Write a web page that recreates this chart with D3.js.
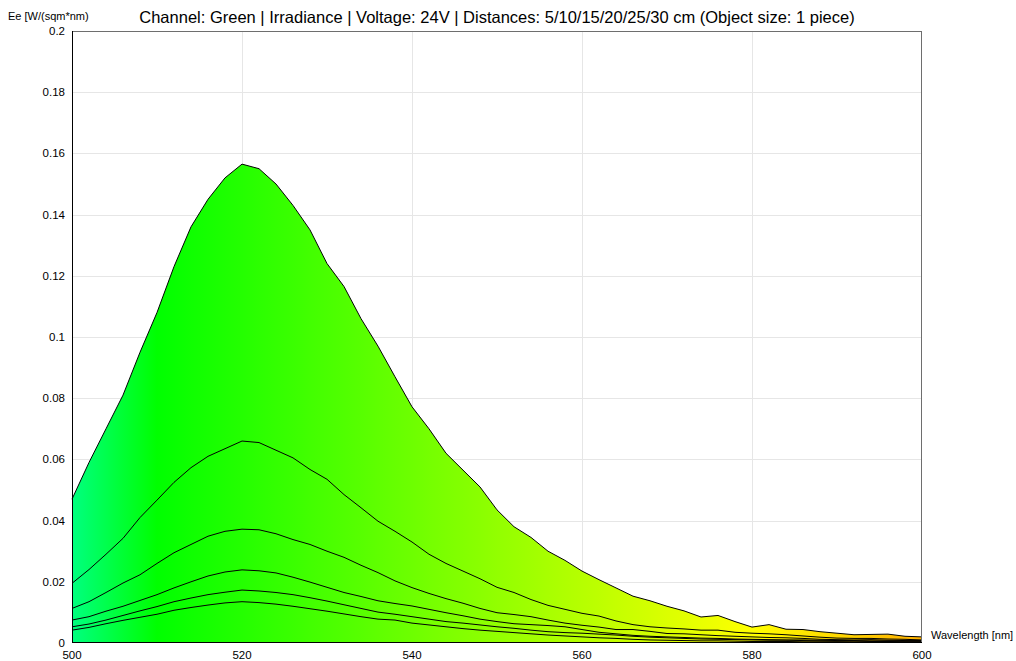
<!DOCTYPE html>
<meta charset="utf-8">
<style>
body { margin: 0; background: #fff; }
text { font-family: "Liberation Sans", Arial, sans-serif; fill: #000; }
.grid line { stroke: #e6e6e6; stroke-width: 1px; shape-rendering: crispEdges; }
.spec { stroke: #000; stroke-width: 1px; stroke-linejoin: round; }
</style>
<svg width="1016" height="661" id="chart"></svg>
<script src="https://cdn.jsdelivr.net/npm/d3@7"></script>
<script>

var title = "Channel: Green | Irradiance | Voltage: 24V | Distances: 5/10/15/20/25/30 cm (Object size: 1 piece)";

var wavelengths = d3.range(500, 601, 2);

var cm5 = [0.047,0.059,0.070,0.081,0.095,0.108,0.123,0.136,0.145,0.152,0.1565,0.155,0.150,0.143,0.135,0.124,0.1165,0.106,0.097,0.087,
  0.0772,0.070,0.062,0.0565,0.051,0.0435,0.038,0.0345,0.030,0.027,0.0235,0.0207,0.018,0.0153,0.0138,0.012,0.0105,0.0085,0.009,0.007,
  0.0052,0.006,0.0045,0.0044,0.0037,0.0032,0.0027,0.0028,0.0029,0.0022,0.002];
var cm10 = [0.0195,0.024,0.029,0.0342,0.041,0.0467,0.0525,0.0573,0.061,0.0635,0.066,0.0655,0.063,0.0605,0.0567,0.0535,0.0485,0.0442,0.0398,0.0365,
  0.033,0.029,0.026,0.0235,0.021,0.0182,0.0165,0.0142,0.0123,0.011,0.0097,0.0088,0.0072,0.006,0.0053,0.0049,0.0046,0.0042,0.0042,0.0035,
  0.0032,0.003,0.0027,0.0023,0.0019,0.0016,0.0015,0.0015,0.0013,0.0012,0.001];
var cm15 = [0.0113,0.0135,0.0165,0.0196,0.0223,0.026,0.0295,0.0322,0.0349,0.0365,0.0372,0.037,0.0357,0.0338,0.0322,0.030,0.028,0.0254,0.023,0.0203,
  0.0181,0.0162,0.0145,0.013,0.0113,0.0099,0.0093,0.0086,0.0075,0.0065,0.0058,0.0052,0.0044,0.0044,0.0038,0.0031,0.003,0.0027,0.0024,0.0022,
  0.002,0.0018,0.0017,0.0015,0.0012,0.0011,0.001,0.0011,0.0009,0.0008,0.0008];
var cm20 = [0.0075,0.0086,0.0104,0.012,0.0139,0.0158,0.018,0.020,0.0219,0.0232,0.0239,0.0236,0.0229,0.0215,0.0199,0.0182,0.0165,0.0152,0.0138,0.0129,
  0.0121,0.011,0.0099,0.0089,0.0078,0.007,0.0063,0.006,0.0057,0.0053,0.0044,0.0035,0.003,0.0025,0.0022,0.002,0.0018,0.0016,0.0015,0.0013,
  0.0012,0.0011,0.001,0.001,0.0009,0.0008,0.0008,0.0007,0.0007,0.0006,0.0006];
var cm25 = [0.0053,0.0062,0.0075,0.009,0.0105,0.0119,0.0135,0.0147,0.0158,0.0166,0.0173,0.017,0.0165,0.0158,0.0148,0.0137,0.0125,0.0113,0.0101,0.0094,
  0.0086,0.0078,0.007,0.0065,0.0059,0.0053,0.0048,0.0042,0.0037,0.0034,0.0032,0.0029,0.0026,0.0022,0.0019,0.0017,0.0015,0.0013,0.0012,0.0011,
  0.001,0.0009,0.0009,0.0008,0.0007,0.0006,0.0006,0.0005,0.0005,0.0004,0.0004];
var cm30 = [0.0042,0.0051,0.0063,0.0074,0.0084,0.0094,0.0107,0.0116,0.0124,0.0131,0.0135,0.0132,0.0127,0.012,0.0112,0.0104,0.0095,0.0086,0.0078,0.0075,
  0.0065,0.0059,0.0053,0.0047,0.0042,0.0038,0.0034,0.003,0.0026,0.0023,0.002,0.0017,0.0015,0.0012,0.001,0.0009,0.0008,0.0007,0.0007,0.0006,
  0.0005,0.0005,0.0005,0.0004,0.0004,0.0004,0.0003,0.0003,0.0003,0.0003,0.0003];

var series = [cm5, cm10, cm15, cm20, cm25, cm30];
var xTicks = [500, 520, 540, 560, 580, 600];
var yTicks = [0, 0.02, 0.04, 0.06, 0.08, 0.1, 0.12, 0.14, 0.16, 0.18, 0.2];

var svg = d3.select("svg#chart"),
    margin = {top: 31, right: 94, bottom: 18, left: 72},
    width = svg.attr("width") - margin.left - margin.right,
    height = svg.attr("height") - margin.top - margin.bottom,
    g = svg.append("g").attr("transform", "translate(" + margin.left + "," + margin.top + ")");

var x = d3.scaleLinear().domain([500, 600]).range([0, width]),
    y = d3.scaleLinear().domain([0, 0.2]).range([height, 0]);

// wavelength -> rgb (Bruton)
function specColor(w) {
  var r = 0, gg = 0, b = 0;
  if (w < 510) { gg = 1; b = -(w - 510) / 20; }
  else if (w < 580) { r = (w - 510) / 70; gg = 1; }
  else { r = 1; gg = -(w - 645) / 65; }
  return d3.rgb(r * 255, gg * 255, b * 255).toString();
}

var grad = svg.append("defs").append("linearGradient")
    .attr("id", "spec")
    .attr("gradientUnits", "userSpaceOnUse")
    .attr("x1", x(500)).attr("x2", x(600)).attr("y1", 0).attr("y2", 0);
grad.selectAll("stop")
  .data(d3.range(500, 601, 2))
  .enter().append("stop")
    .attr("offset", function(d) { return (d - 500) / 100; })
    .attr("stop-color", specColor);

// grid
g.append("g").attr("class", "grid")
  .selectAll("line").data(yTicks.slice(1, -1))
  .enter().append("line")
    .attr("x1", 0).attr("x2", width)
    .attr("y1", function(d) { return Math.round(y(d)) + 0.5; })
    .attr("y2", function(d) { return Math.round(y(d)) + 0.5; });
g.append("g").attr("class", "grid")
  .selectAll("line").data(xTicks.slice(1, -1))
  .enter().append("line")
    .attr("y1", 0).attr("y2", height)
    .attr("x1", function(d) { return Math.round(x(d)) + 0.5; })
    .attr("x2", function(d) { return Math.round(x(d)) + 0.5; });

var area = d3.area()
    .x(function(d, i) { return x(wavelengths[i]); })
    .y0(y(0))
    .y1(function(d) { return y(d); });

var line = d3.line()
    .x(function(d, i) { return x(wavelengths[i]); })
    .y(function(d) { return y(d); });

g.selectAll(".fill")
  .data(series)
  .enter().append("path")
    .attr("class", "fill")
    .attr("fill", "url(#spec)")
    .attr("d", area);

g.selectAll(".spec")
  .data(series)
  .enter().append("path")
    .attr("class", "spec")
    .attr("fill", "none")
    .attr("d", line);

// frame
g.append("path")
    .attr("d", "M0.5,0.5H" + (width - 0.5) + "V" + (height - 0.5))
    .attr("fill", "none").attr("stroke", "#6e6e6e").attr("shape-rendering", "crispEdges");
g.append("path")
    .attr("d", "M0.5,0V" + (height - 0.5) + "H" + width)
    .attr("fill", "none").attr("stroke", "#000").attr("shape-rendering", "crispEdges");

// labels
g.append("g").selectAll("text").data(yTicks)
  .enter().append("text")
    .attr("x", -7)
    .attr("y", function(d) { return y(d) + 4; })
    .attr("text-anchor", "end")
    .style("font-size", "11.5px")
    .text(function(d) { return d3.format("")(+d.toFixed(2)); });

g.append("g").selectAll("text").data(xTicks)
  .enter().append("text")
    .attr("x", function(d) { return x(d); })
    .attr("y", height + 16)
    .attr("text-anchor", "middle")
    .style("font-size", "11.5px")
    .text(function(d) { return d; });

svg.append("text")
    .attr("x", 8).attr("y", 20)
    .style("font-size", "11px")
    .text("Ee [W/(sqm*nm)");

svg.append("text")
    .attr("x", 931).attr("y", 639)
    .style("font-size", "11px")
    .text("Wavelength [nm]");

svg.append("text")
    .attr("x", 497).attr("y", 23)
    .attr("text-anchor", "middle")
    .style("font-size", "16.5px")
    .text(title);

</script>
